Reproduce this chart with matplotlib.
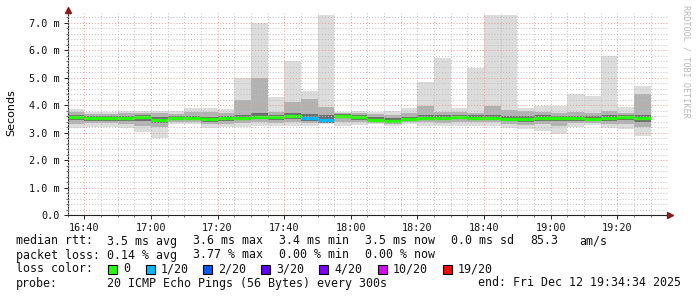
import numpy as np
import matplotlib
matplotlib.use("Agg")
from matplotlib import pyplot as plt
from matplotlib.patches import Rectangle

# 5 minute bins, 16:35 .. 19:25 (start of each bin, minutes after 16:00)
bin_start = np.arange(35, 210, 5)

median = [3.58, 3.52, 3.52, 3.52, 3.56, 3.46, 3.55, 3.55, 3.49, 3.52, 3.55, 3.58,
          3.56, 3.61, 3.54, 3.46, 3.61, 3.56, 3.45, 3.44, 3.49, 3.55, 3.55, 3.58,
          3.55, 3.55, 3.50, 3.50, 3.55, 3.55, 3.52, 3.51, 3.55, 3.56, 3.52]
ping_max = [3.86, 3.75, 3.75, 3.80, 3.80, 3.80, 3.80, 3.91, 3.91, 3.86, 4.98, 7.01,
            4.31, 5.61, 4.53, 7.29, 3.77, 3.80, 3.77, 3.80, 3.91, 4.86, 5.71, 3.91,
            5.37, 7.29, 7.29, 3.91, 3.98, 3.98, 4.40, 4.34, 5.80, 3.95, 4.70]
ping_min = [3.17, 3.20, 3.20, 3.16, 3.04, 2.80, 3.32, 3.32, 3.17, 3.20, 3.20, 3.25,
            3.25, 3.25, 3.25, 3.30, 3.25, 3.28, 3.30, 3.25, 3.30, 3.25, 3.25, 3.25,
            3.25, 3.25, 3.18, 3.12, 3.07, 2.94, 3.20, 3.27, 3.18, 3.14, 2.89]
mid_hi = [3.75, 3.68, 3.68, 3.72, 3.70, 3.72, 3.68, 3.75, 3.75, 3.72, 4.19, 5.00,
          3.75, 4.13, 4.22, 3.95, 3.72, 3.72, 3.68, 3.65, 3.70, 3.98, 3.75, 3.75,
          3.72, 3.97, 3.83, 3.78, 3.75, 3.72, 3.75, 3.72, 3.80, 3.72, 4.40]
mid_lo = [3.30, 3.35, 3.35, 3.30, 3.25, 3.20, 3.40, 3.40, 3.30, 3.30, 3.35, 3.40,
          3.35, 3.38, 3.35, 3.40, 3.40, 3.40, 3.35, 3.32, 3.38, 3.38, 3.35, 3.38,
          3.38, 3.38, 3.30, 3.28, 3.30, 3.25, 3.35, 3.35, 3.30, 3.30, 3.20]
core_hi = [3.66, 3.60, 3.60, 3.62, 3.63, 3.58, 3.62, 3.62, 3.58, 3.60, 3.65, 3.70,
           3.63, 3.70, 3.68, 3.65, 3.68, 3.64, 3.56, 3.55, 3.58, 3.65, 3.63, 3.66,
           3.63, 3.65, 3.60, 3.62, 3.64, 3.62, 3.60, 3.60, 3.66, 3.64, 3.66]
core_lo = [3.45, 3.42, 3.44, 3.42, 3.42, 3.36, 3.48, 3.48, 3.40, 3.42, 3.45, 3.50,
           3.47, 3.50, 3.44, 3.35, 3.52, 3.47, 3.40, 3.38, 3.42, 3.45, 3.45, 3.48,
           3.45, 3.45, 3.42, 3.40, 3.43, 3.42, 3.44, 3.42, 3.44, 3.45, 3.40]
# lost pings out of 20 for each bin
loss = [0]*14 + [1, 1] + [0]*19

loss_labels = ["0", "1/20", "2/20", "3/20", "4/20", "10/20", "19/20"]
loss_colors = ["#26ff00", "#00b8ff", "#0059ff", "#5e00ff", "#7e00ff", "#dd00ff", "#ff0000"]
loss_color_of = {0: "#26ff00", 1: "#00b8ff", 2: "#0059ff", 3: "#5e00ff", 4: "#7e00ff",
                 10: "#dd00ff", 19: "#ff0000"}

W, H = 697, 297
fig = plt.figure(figsize=(W/100, H/100), dpi=100)
fig.patch.set_facecolor("white")
ax = fig.add_axes([67.65/W, 1-215/H, (669-67.65)/W, 202/H])

mono = "DejaVu Sans Mono"
lo = np.array(ping_min)
ax.bar(bin_start, np.array(ping_max)-lo, bottom=lo, width=5, align="edge", color="#dcdcdc", lw=0, zorder=1)
ax.bar(bin_start, np.array(mid_hi)-np.array(mid_lo), bottom=mid_lo, width=5, align="edge", color="#b2b2b2", lw=0, zorder=1)
ax.bar(bin_start, np.array(core_hi)-np.array(core_lo), bottom=core_lo, width=5, align="edge", color="#6e6e6e", lw=0, zorder=1)
ax.hlines(median, bin_start, bin_start+5, colors=[loss_color_of[l] for l in loss], lw=2.4, zorder=2)

ax.set_xlim(35, 215.5)
ax.set_ylim(0, 7.36)

ax.set_xticks(np.arange(40, 215, 20))
ax.set_xticklabels(["%d:%02d" % (16 + m//60, m % 60) for m in range(40, 215, 20)])
ax.set_xticks(np.arange(35, 215, 5), minor=True)
ax.set_yticks(np.arange(0, 8, 1))
ax.set_yticklabels(["0.0"] + ["%.1f m" % v for v in range(1, 8)])
ax.set_yticks(np.arange(0, 7.4, 0.2), minor=True)

ax.grid(which="minor", color="#bdbdbd", lw=0.7, ls=(0, (1, 2)), zorder=3)
ax.grid(which="major", color="#e89a9a", lw=0.7, ls=(0, (1, 2)), zorder=3)
ax.set_axisbelow(False)

for s in ["top", "right"]:
    ax.spines[s].set_visible(False)
for s in ["left", "bottom"]:
    ax.spines[s].set_color("#222222")
    ax.spines[s].set_linewidth(0.8)
ax.tick_params(which="major", length=3, width=0.7, color="#222222", labelsize=7.3, pad=2.5)
ax.tick_params(which="minor", length=1.5, width=0.6, color="#555555")
for lab in ax.get_xticklabels() + ax.get_yticklabels():
    lab.set_family(mono)
    lab.set_color("#111111")

# arrow heads
ax.plot([215.8], [0], marker=">", ms=4, color="#8b1a1a", clip_on=False, zorder=5)
ax.plot([35], [7.47], marker="^", ms=4, color="#8b1a1a", clip_on=False, zorder=5)

fig.text(11/W, 1-113/H, "Seconds", rotation=90, ha="center", va="center", fontsize=8, family="DejaVu Sans")
fig.text(686/W, 1-5/H, "RRDTOOL / TOBI OETIKER", rotation=270, ha="center", va="top",
         fontsize=6.1, family=mono, color="#b8b8b8")

def t(x, y, s):
    fig.text(x/W, 1-y/H, s, ha="left", va="baseline", fontsize=8.4, family=mono, color="#111111")

t(16, 244.5, "median rtt:")
for x, s in [(107, "3.5 ms avg"), (193, "3.6 ms max"), (279, "3.4 ms min"),
             (365, "3.5 ms now"), (451, "0.0 ms sd"), (530, "85.3"), (579, "am/s")]:
    t(x, 244.5, s)
t(16, 258.5, "packet loss:")
for x, s in [(107, "0.14 % avg"), (193, "3.77 % max"), (279, "0.00 % min"), (365, "0.00 % now")]:
    t(x, 258.5, s)
t(16, 272.5, "loss color:")
box_x = [108, 146, 203, 261, 319, 378, 443]
for bx, lab, c in zip(box_x, loss_labels, loss_colors):
    fig.add_artist(Rectangle((bx/W, 1-274/H), 9/W, 9/H, transform=fig.transFigure,
                             facecolor=c, edgecolor="black", lw=0.8))
    t(bx+15, 272.5, lab)
t(16, 286.5, "probe:")
t(107, 286.5, "20 ICMP Echo Pings (56 Bytes) every 300s")
t(478, 286.5, "end: Fri Dec 12 19:34:34 2025")

fig.savefig("out.png", dpi=100, facecolor="white")
